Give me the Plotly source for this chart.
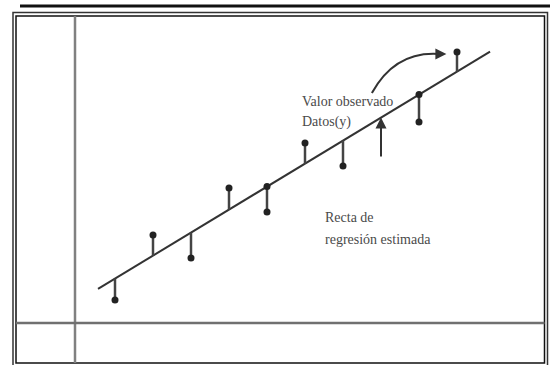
import plotly.graph_objects as go

# ---- data ----
x_obs = [1, 2, 3, 4, 5, 6, 7, 9, 10]
y_obs = [1.0, 3.83, 2.83, 5.87, 4.83, 7.83, 6.83, 8.74, 11.78]
fit_dot_x = [5, 9]          # observations whose fitted value is also marked
arrow_x = 8                  # arrow pointing to the line
arrow_from_y = 7.17
intercept = 0.93
slope = 1.0
line_x = [0.553, 10.87]

labels_obs = ["Valor observado", "Datos(y)"]
labels_line = ["Recta de", "regresión estimada"]

def fit(x):
    return intercept + slope * x

W, H = 550, 365
# axis ranges so that x=0 at px 77 (38 px/unit), y=0 at py 323 (23 px/unit)
XR = [-77 / 38, (W - 77) / 38]
YR = [(323 - H) / 23, 323 / 23]

def px(p):
    return p / W

def py(p):
    return 1 - p / H

fig = go.Figure()

# regression line
fig.add_trace(go.Scatter(x=line_x, y=[fit(v) for v in line_x], mode="lines",
                         line=dict(color="#333333", width=2), hoverinfo="skip"))

# residual segments
sx, sy = [], []
for xv, yv in zip(x_obs, y_obs):
    sx += [xv, xv, None]
    sy += [yv, fit(xv), None]
fig.add_trace(go.Scatter(x=sx, y=sy, mode="lines",
                         line=dict(color="#444444", width=2.5), hoverinfo="skip"))

# observed points
fig.add_trace(go.Scatter(x=x_obs, y=y_obs, mode="markers",
                         marker=dict(color="#222222", size=7), hoverinfo="skip"))
# fitted dots
fig.add_trace(go.Scatter(x=fit_dot_x, y=[fit(v) for v in fit_dot_x], mode="markers",
                         marker=dict(color="#222222", size=7), hoverinfo="skip"))

shapes = []
# top rule
shapes.append(dict(type="line", xref="paper", yref="paper", x0=px(20), x1=px(550),
                   y0=py(6), y1=py(6), line=dict(color="#111111", width=3)))
# double frame
shapes.append(dict(type="rect", xref="paper", yref="paper", x0=px(13), x1=px(547.5),
                   y0=py(12.5), y1=py(370), line=dict(color="#333333", width=1.5)))
shapes.append(dict(type="rect", xref="paper", yref="paper", x0=px(16), x1=px(544.5),
                   y0=py(16), y1=py(363), line=dict(color="#111111", width=1.5)))
# axes cross lines
shapes.append(dict(type="line", xref="paper", yref="paper", x0=px(75), x1=px(75),
                   y0=py(16), y1=py(363), line=dict(color="#808080", width=2.5)))
shapes.append(dict(type="line", xref="paper", yref="paper", x0=px(16), x1=px(544.5),
                   y0=py(323), y1=py(323), line=dict(color="#707070", width=2.5)))
# curved arrow
shapes.append(dict(type="path", xref="x", yref="y",
                   path="M 7.76,10.0 Q 8.37,11.85 9.55,11.70",
                   line=dict(color="#333333", width=2)))
fig.update_layout(shapes=shapes)

annotations = []
# arrow pointing to line
annotations.append(dict(x=arrow_x, y=fit(arrow_x), ax=arrow_x, ay=arrow_from_y,
                        xref="x", yref="y", axref="x", ayref="y", text="",
                        showarrow=True, arrowhead=2, arrowsize=1.1, arrowwidth=2,
                        arrowcolor="#333333"))
# head of curved arrow
annotations.append(dict(x=9.72, y=11.70, ax=9.45, ay=11.70,
                        xref="x", yref="y", axref="x", ayref="y", text="",
                        showarrow=True, arrowhead=2, arrowsize=1.1, arrowwidth=2,
                        arrowcolor="#333333"))
tfont = dict(family="Liberation Serif", size=14, color="#4a4a4a")
annotations.append(dict(x=5.87, y=9.61, text=labels_obs[0], showarrow=False,
                        xanchor="left", yanchor="middle", font=tfont))
annotations.append(dict(x=5.87, y=8.74, text=labels_obs[1], showarrow=False,
                        xanchor="left", yanchor="middle", font=tfont))
annotations.append(dict(x=6.47, y=4.57, text=labels_line[0], showarrow=False,
                        xanchor="left", yanchor="middle", font=tfont))
annotations.append(dict(x=6.47, y=3.61, text=labels_line[1], showarrow=False,
                        xanchor="left", yanchor="middle", font=tfont))

fig.update_layout(
    annotations=annotations,
    width=W, height=H,
    margin=dict(l=0, r=0, t=0, b=0),
    paper_bgcolor="white", plot_bgcolor="white",
    showlegend=False,
    xaxis=dict(range=XR, visible=False, fixedrange=True),
    yaxis=dict(range=YR, visible=False, fixedrange=True),
)

fig.write_html("out.html", config={"displayModeBar": False},
               post_script="document.body.style.margin='0';document.body.style.overflow='hidden';")
